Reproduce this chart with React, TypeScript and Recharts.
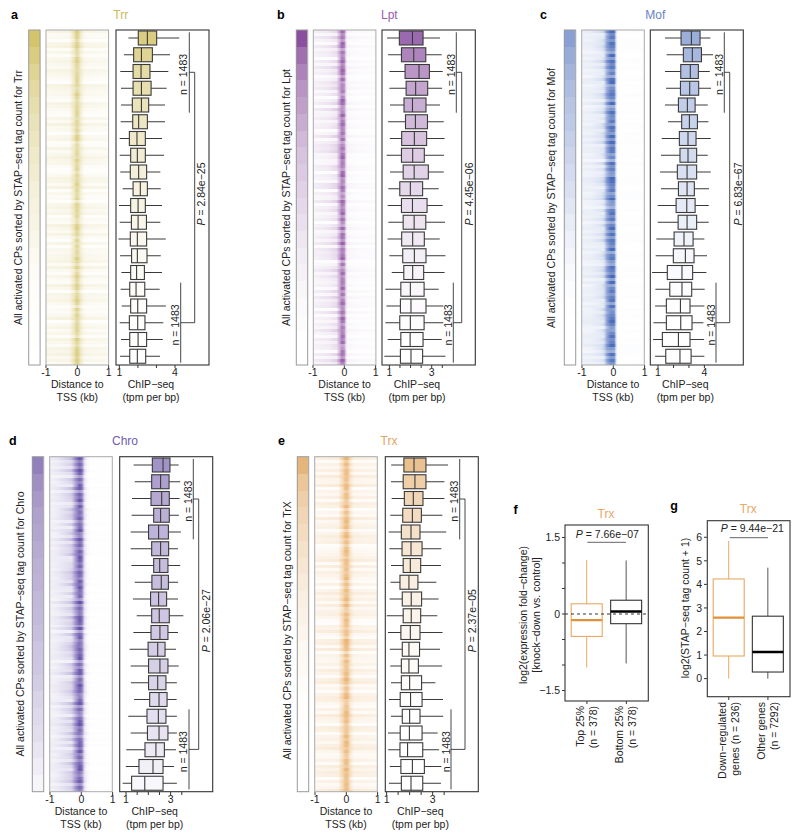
import React from "react";
import { BarChart, Bar, XAxis, YAxis, ReferenceLine } from "recharts";

const FONT = "'Liberation Sans', Arial, sans-serif";
const INK = "#222";

// ---- box statistics: [low whisker, q1, median, q3, high whisker], top row first
const trrBoxes = [
  [1.49,2.02,2.51,3.01,4.23],[1.25,1.77,2.19,2.78,3.73],[1.05,1.74,2.17,2.65,3.64],[1.09,1.74,2.19,2.71,3.55],
  [1.09,1.70,2.19,2.58,3.46],[1.07,1.72,2.04,2.51,3.46],[1.02,1.54,1.95,2.40,3.30],[1.02,1.61,1.97,2.40,3.41],
  [1.05,1.59,2.04,2.47,3.21],[1.18,1.74,2.13,2.51,3.23],[0.98,1.61,2.01,2.40,3.30],[1.02,1.65,2.01,2.46,3.21],
  [0.95,1.59,1.97,2.47,3.50],[1.04,1.66,1.97,2.49,3.23],[1.11,1.61,1.93,2.35,3.30],[1.07,1.56,1.90,2.37,3.17],
  [1.13,1.61,1.99,2.47,3.51],[1.02,1.54,1.99,2.38,3.37],[1.09,1.56,2.01,2.47,3.34],[1.04,1.56,1.97,2.42,3.19],
];
const lptBoxes = [
  [0.89,1.47,2.09,2.59,3.39],[0.94,1.57,2.15,2.72,3.47],[1.00,1.74,2.40,2.89,3.52],[1.00,1.79,2.24,2.81,3.49],
  [1.03,1.69,2.09,2.73,3.39],[0.94,1.76,2.23,2.80,3.57],[1.02,1.58,2.18,2.76,3.61],[0.87,1.57,2.10,2.65,3.58],
  [1.03,1.65,2.17,2.84,3.57],[0.95,1.49,1.99,2.57,3.33],[0.92,1.57,2.09,2.78,3.52],[0.95,1.65,2.17,2.72,3.63],
  [0.91,1.58,2.10,2.65,3.38],[1.00,1.63,2.18,2.73,3.65],[1.11,1.68,2.10,2.62,3.61],[0.81,1.54,1.99,2.64,3.33],
  [0.86,1.52,2.02,2.73,3.55],[0.81,1.49,1.99,2.64,3.55],[0.92,1.54,1.98,2.59,3.47],[0.76,1.52,2.02,2.57,3.65],
];
const mofBoxes = [
  [1.45,2.49,3.16,3.72,4.39],[1.56,2.64,3.22,3.81,4.56],[1.45,2.47,3.09,3.61,4.35],[1.52,2.45,3.05,3.63,4.43],
  [1.45,2.32,2.90,3.40,4.22],[1.65,2.53,3.03,3.55,4.26],[1.24,2.38,2.94,3.46,4.41],[1.19,2.42,2.94,3.50,4.22],
  [1.13,2.25,2.88,3.50,4.41],[1.19,2.32,2.88,3.35,4.30],[0.98,2.17,2.86,3.40,4.28],[0.98,2.30,2.88,3.50,4.28],
  [0.89,2.04,2.68,3.27,4.00],[0.85,1.99,2.77,3.33,4.17],[0.61,1.60,2.55,3.24,4.13],[0.83,1.76,2.55,3.18,4.02],
  [0.81,1.54,2.45,3.07,4.00],[0.70,1.54,2.47,3.20,3.94],[0.68,1.28,2.32,3.07,3.98],[0.81,1.50,2.42,3.14,4.00],
];
const chroBoxes = [
  [1.34,2.18,2.66,2.97,3.36],[1.39,2.15,2.55,2.93,3.43],[1.27,2.12,2.60,2.94,3.40],[1.25,2.24,2.55,2.94,3.37],
  [1.21,2.01,2.46,2.90,3.46],[1.21,2.15,2.55,2.91,3.33],[1.24,2.24,2.51,2.88,3.43],[1.39,2.16,2.58,2.90,3.33],
  [1.31,2.10,2.46,2.82,3.33],[1.48,2.15,2.49,2.94,3.57],[1.33,2.12,2.52,2.88,3.33],[1.16,1.99,2.42,2.75,3.24],
  [1.21,2.01,2.52,2.88,3.36],[1.22,2.01,2.42,2.79,3.28],[1.36,2.06,2.48,2.84,3.27],[1.10,1.94,2.45,2.79,3.28],
  [1.21,1.96,2.48,2.88,3.28],[1.01,1.85,2.34,2.72,3.24],[0.99,1.58,2.21,2.66,3.15],[0.85,1.25,1.84,2.66,3.28],
];
const trxBoxes = [
  [1.20,1.75,2.19,2.71,3.67],[1.19,1.72,2.23,2.71,3.51],[1.22,1.77,2.16,2.58,3.51],[1.16,1.70,2.12,2.51,3.42],
  [1.09,1.64,2.06,2.45,3.59],[1.12,1.67,2.06,2.54,3.38],[1.19,1.72,2.03,2.48,3.36],[1.17,1.58,1.97,2.36,3.16],
  [1.13,1.68,2.07,2.52,3.26],[1.01,1.72,2.07,2.48,3.20],[1.06,1.62,2.03,2.45,3.43],[1.14,1.68,1.97,2.43,3.32],
  [1.16,1.64,1.97,2.38,3.41],[1.19,1.64,2.00,2.52,3.12],[1.10,1.59,2.04,2.54,3.45],[1.19,1.68,2.00,2.45,3.46],
  [1.06,1.59,1.99,2.54,3.22],[1.07,1.58,1.91,2.57,3.28],[1.14,1.62,2.12,2.64,3.38],[1.10,1.64,2.06,2.57,3.36],
];

// ---- strength of the colour band of each of the 20 groups
const trrBands = [1,.86,.72,.64,.56,.48,.42,.36,.31,.26,.22,.18,.14,.1,.07,.05,.03,.02,.01,0];
const lptBands = [1,.82,.7,.6,.54,.47,.4,.34,.3,.26,.22,.18,.14,.11,.08,.05,.03,.02,0,0];
const mofBands = [1,.88,.78,.7,.62,.56,.5,.44,.38,.32,.26,.2,.15,.1,.06,.03,.01,0,0,0];
const chroBands = [1,.88,.8,.74,.7,.66,.62,.6,.56,.54,.5,.46,.44,.4,.34,.3,.26,.2,.14,.08];
const trxBands = [1,.78,.66,.56,.48,.4,.34,.28,.22,.18,.14,.1,.07,.04,.02,.01,0,0,0,0];

// ---- heat map row strengths, 0-9, estimated by eye, top row first
const digits = (s: string) => s.replace(/\s/g, "").split("").map(Number);
const trrCore = digits("9984 6752 3785 5146 7730 4964 2558 7163 3649 8251 5507 3682 6149 2735 8064 5371 2696 4180 7353 9426 1685 4772 3596 0847 2564 7318 5469 8799");
const trrWash = digits("8341 7926 1575 3864 2097 5531 8642 1739 4405 7128 3596 6201 4873 9152 3068 5714 2963 8307 1546 6829 4173 2950 7684 1325 9047 3618 5286 9473");
const lptCore = digits("8452 9716 3684 5972 8143 6059 7314 9268 4571 8036 2795 6418 9352 7604 1863 5927 4081 7639 2546 9170 3825 6491 7058 2463 9716 3584 8027 6395");
const lptWash = digits("7294 1836 5072 9461 3758 2604 8193 4725 6039 1587 9342 2760 5418 8063 3915 7246 0582 4739 1867 6025 9374 3518 2946 7081 5263 9417 3650 8294");
const mofCore = digits("9573 8641 9285 7360 8914 6752 9038 5471 8629 3947 7150 8463 2986 5714 9320 6847 1593 8276 4905 7318 6492 9057 3681 8245 7963 1584 6920 8374");
const mofWash = digits("9127 4863 0592 7316 8045 2971 6358 1409 7286 5913 3740 8162 4695 0378 9251 6047 3814 7592 1068 5326 9471 2853 6704 1938 5260 8417 3795 6142");
const chroCore = digits("8364 9715 2870 6493 8152 7346 9028 5617 3984 7265 1839 6470 9253 4786 0915 8342 6579 1408 7263 9651 3780 5124 8936 2047 7591 6348 9205 7163");
const chroWash = digits("9462 8317 5093 7641 2958 6170 4839 2765 9014 3586 7291 1604 8375 2946 5708 1369 7452 0863 9127 4586 3094 7618 2753 9481 6037 5294 1876 8365");
const trxCore = digits("9473 5826 3691 7540 8263 4957 1682 5379 6048 2715 9364 7158 3820 6497 5136 2978 4061 8352 7693 1547 8026 3965 7412 5839 6074 2681 9357 4865");
const trxWash = digits("8163 7294 4905 3718 6042 9357 1586 7023 4691 8275 3160 5947 2836 7410 6593 1782 9054 3628 5179 2406 8731 6295 4087 1563 7942 3618 5870 6249");

// ---- horizontal profile of the heat maps: [distance to TSS in kb, alpha]
const trrCoreProfile = [[-0.25,0],[-0.1,0.3],[-0.04,0.62],[0.02,0.62],[0.1,0.22],[0.22,0]];
const trrWashProfile = [[-1,0.15],[-0.3,0.19],[0,0.26],[0.3,0.15],[1,0.12]];
const lptCoreProfile = [[-0.25,0],[-0.15,0.4],[-0.08,0.85],[0,0.75],[0.05,0.2],[0.1,0]];
const lptWashProfile = [[-1,0.1],[-0.5,0.16],[-0.15,0.3],[0.05,0.08],[0.4,0.04],[1,0.03]];
const mofCoreProfile = [[-0.3,0.12],[-0.18,0.7],[-0.08,1],[0.03,1],[0.09,0.2],[0.14,0]];
const mofWashProfile = [[-1,0],[-0.7,0.02],[-0.4,0.12],[-0.2,0.36],[0.05,0.1],[0.15,0.01],[1,0.02]];
const chroCoreProfile = [[-0.3,0.1],[-0.15,0.6],[-0.05,0.95],[0.02,0.8],[0.1,0.15],[0.18,0]];
const chroWashProfile = [[-1,0.01],[-0.75,0.06],[-0.4,0.22],[-0.1,0.5],[0.1,0.1],[0.3,0.01],[1,0.01]];
const trxCoreProfile = [[-0.25,0],[-0.1,0.35],[-0.03,0.65],[0.05,0.6],[0.12,0.2],[0.22,0]];
const trxWashProfile = [[-1,0.16],[-0.3,0.2],[0,0.3],[0.3,0.18],[1,0.15]];

const GROUPS = Array.from({ length: 20 }, (_, i) => i + 1);

const panels = [
  { id: "a", title: "Trr", titleColor: "#cbb85a", titleX: 120.7, titleY: 19, labelX: 11, labelY: 19,
    ylabel: "All activated CPs sorted by STAP\u2212seq tag count for Trr", ylabelX: 18, ylabelY: 197.5,
    top: 30, bar: 28.7, heat: 46, box: 116, boxW: 93, boxes: trrBoxes, bands: trrBands,
    domain: [0.82, 5.83], ticks: [1,2,3,4], shown: [1,4], barColor: "#d4c46c", heatColor: "#cdba52",
    core: trrCore, wash: trrWash, coreP: trrCoreProfile, washP: trrWashProfile,
    n1: 189.3, n2: 180.7, pX: 194.7, n1T: 183, n2T: 175, pT: 201, pText: "2.84e\u221225" },
  { id: "b", title: "Lpt", titleColor: "#9a5cb0", titleX: 389.3, titleY: 19, labelX: 277, labelY: 19,
    ylabel: "All activated CPs sorted by STAP\u2212seq tag count for Lpt", ylabelX: 286, ylabelY: 197.5,
    top: 30, bar: 296.3, heat: 313.3, box: 382, boxW: 93.3, boxes: lptBoxes, bands: lptBands,
    domain: [0.65, 5.06], ticks: [1,1.5,2,2.5,3,3.5], shown: [1,3], barColor: "#8a4f9f", heatColor: "#87459c",
    core: lptCore, wash: lptWash, coreP: lptCoreProfile, washP: lptWashProfile,
    n1: 456.3, n2: 453.3, pX: 461.7, n1T: 450.7, n2T: 447.7, pT: 469, pText: "4.45e\u221206" },
  { id: "c", title: "Mof", titleColor: "#6583c4", titleX: 655.3, titleY: 19, labelX: 540, labelY: 19,
    ylabel: "All activated CPs sorted by STAP\u2212seq tag count for Mof", ylabelX: 550.7, ylabelY: 198,
    top: 30, bar: 564.3, heat: 581.7, box: 650.3, boxW: 93, boxes: mofBoxes, bands: mofBands,
    domain: [0.48, 6.5], ticks: [1,2,3,4], shown: [1,4], barColor: "#8aa0d4", heatColor: "#4a6cba",
    core: mofCore, wash: mofWash, coreP: mofCoreProfile, washP: mofWashProfile,
    n1: 724.3, n2: 716, pX: 729.7, n1T: 718.7, n2T: 710.7, pT: 737.7, pText: "6.83e\u221267" },
  { id: "d", title: "Chro", titleColor: "#6f5cb5", titleX: 125, titleY: 445, labelX: 9, labelY: 445,
    ylabel: "All activated CPs sorted by STAP\u2212seq tag count for Chro", ylabelX: 20, ylabelY: 624,
    top: 456.7, bar: 32.3, heat: 49.7, box: 119.7, boxW: 93, boxes: chroBoxes, bands: chroBands,
    domain: [0.73, 4.9], ticks: [1,1.5,2,2.5,3,3.5], shown: [1,3], barColor: "#9280bd", heatColor: "#5e48a6",
    core: chroCore, wash: chroWash, coreP: chroCoreProfile, washP: chroWashProfile,
    n1: 193.3, n2: 189, pX: 198.7, n1T: 188.3, n2T: 183, pT: 206, pText: "2.06e\u221227" },
  { id: "e", title: "Trx", titleColor: "#e6a35e", titleX: 389, titleY: 445, labelX: 278, labelY: 445,
    ylabel: "All activated CPs sorted by STAP\u2212seq tag count for TrX", ylabelX: 286.7, ylabelY: 630.5,
    top: 456.7, bar: 297.3, heat: 314.7, box: 385.3, boxW: 93, boxes: trxBoxes, bands: trxBands,
    domain: [0.93, 4.97], ticks: [1,1.5,2,2.5,3,3.5], shown: [1,3], barColor: "#e5b67c", heatColor: "#e3993f",
    core: trxCore, wash: trxWash, coreP: trxCoreProfile, washP: trxWashProfile,
    n1: 459.7, n2: 451, pX: 465, n1T: 454, n2T: 445.7, pT: 471.7, pText: "2.37e\u221205" },
];

const fCategories = ["Top 25%|(n = 378)", "Bottom 25%|(n = 378)"];
const fBoxes = [[-1.05,-0.44,-0.12,0.20,1.06],[-0.97,-0.19,0.05,0.27,1.05]];
const fTicks = [-1.5,-1,-0.5,0,0.5,1,1.5];
const gCategories = ["Down\u2212regulated|genes (n = 236)", "Other genes|(n = 7292)"];
const gBoxes = [[0,0.96,2.59,4.23,5.84],[0,0.28,1.13,2.65,4.71]];
const gTicks = [0,1,2,3,4,5,6];

const ORANGE = "#e9a863";
const ORANGE_DK = "#df9139";

const H = 335;
const PAD = 12;
const AX = 20;

function HBox(props: any) {
  const { x, y, width, height, payload, fill } = props;
  const [lo, q1, med, q3, hi] = payload.stats;
  const u = width / (q3 - q1);
  const at = (v: number) => x + (v - q1) * u;
  const cy = y + height / 2;
  return (
    <g>
      <line x1={at(lo)} x2={at(hi)} y1={cy} y2={cy} stroke="#3a3a3a" strokeWidth={1} />
      <rect x={x} y={y} width={width} height={height} fill="#fff" />
      <rect x={x} y={y} width={width} height={height} fill={fill} fillOpacity={payload.band * 0.85} stroke="#3a3a3a" strokeWidth={1.1} />
      <line x1={at(med)} x2={at(med)} y1={y} y2={y + height} stroke="#3a3a3a" strokeWidth={1.1} />
    </g>
  );
}

function VBox(props: any) {
  const { x, y, width, height, payload } = props;
  const [lo, q1, med, q3, hi] = payload.stats;
  const u = height / (q3 - q1);
  const at = (v: number) => y + height - (v - q1) * u;
  const cx = x + width / 2;
  const { line, mid, whisk } = payload;
  return (
    <g>
      <line x1={cx} x2={cx} y1={at(hi)} y2={y} stroke={whisk} strokeWidth={1} />
      <line x1={cx} x2={cx} y1={y + height} y2={at(lo)} stroke={whisk} strokeWidth={1} />
      <rect x={x} y={y} width={width} height={height} fill="none" stroke={line} strokeWidth={1.1} />
      <line x1={x} x2={x + width} y1={at(med)} y2={at(med)} stroke={mid} strokeWidth={2.4} />
    </g>
  );
}

function ColorBar({ p }: any) {
  const data = GROUPS.map((g, i) => ({ g, span: [0, 1], band: p.bands[i] }));
  const rowH = H / data.length;
  return (
    <div style={{ position: "absolute", left: p.bar, top: p.top }}>
      <BarChart width={11.4} height={H} data={data} layout="vertical" margin={{ top: 0, right: 0, bottom: 0, left: 0 }} barCategoryGap={0}>
        <XAxis type="number" domain={[0, 1]} hide />
        <YAxis type="category" dataKey="g" hide />
        <Bar dataKey="span" isAnimationActive={false}
          shape={(s: any) => <rect x={s.x} y={s.y} width={s.width} height={rowH} fill={p.barColor} fillOpacity={s.payload.band} shapeRendering="crispEdges" />} />
      </BarChart>
    </div>
  );
}

function HeatMap({ p }: any) {
  const data = p.core.map((c: number, i: number) => ({ row: i, span: [-1, 1], core: c / 9, wash: p.wash[i] / 9 }));
  const rowH = H / data.length;
  const stops = (prof: number[][]) => prof.map(([d, a], i) => (
    <stop key={i} offset={`${((d + 1) / 2) * 100}%`} stopColor={p.heatColor} stopOpacity={a} />
  ));
  return (
    <div style={{ position: "absolute", left: p.heat - PAD, top: p.top }}>
      <BarChart width={62.6 + 2 * PAD} height={H + AX} data={data} layout="vertical" margin={{ top: 0, right: PAD, bottom: 0, left: PAD }} barCategoryGap={0}>
        <defs>
          <linearGradient id={`core-${p.id}`} x1="0" x2="1" y1="0" y2="0">{stops(p.coreP)}</linearGradient>
          <linearGradient id={`wash-${p.id}`} x1="0" x2="1" y1="0" y2="0">{stops(p.washP)}</linearGradient>
        </defs>
        <XAxis type="number" domain={[-1, 1]} ticks={[-1, 0, 1]} interval={0} height={AX} axisLine={false}
          tickSize={3} tick={{ fontSize: 10.5, fill: INK, fontFamily: FONT, dy: -1 }} tickLine={{ stroke: "#333" }}
          tickFormatter={(v: number) => (v < 0 ? "-1" : String(v))} />
        <YAxis type="category" dataKey="row" hide />
        <Bar dataKey="span" isAnimationActive={false}
          shape={(s: any) => (
            <g shapeRendering="crispEdges">
              <rect x={s.x} y={s.y} width={s.width} height={rowH} fill={`url(#wash-${p.id})`} opacity={0.1 + 0.9 * s.payload.wash} />
              <rect x={s.x} y={s.y} width={s.width} height={rowH} fill={`url(#core-${p.id})`} opacity={0.5 + 0.5 * s.payload.core} />
            </g>
          )} />
      </BarChart>
    </div>
  );
}

function BoxRows({ p }: any) {
  const data = p.boxes.map((b: number[], i: number) => ({ g: GROUPS[i], box: [b[1], b[3]], stats: b, band: p.bands[i] }));
  return (
    <div style={{ position: "absolute", left: p.box - PAD, top: p.top }}>
      <BarChart width={p.boxW + 2 * PAD} height={H + AX} data={data} layout="vertical" margin={{ top: 0, right: PAD, bottom: 0, left: PAD }} barSize={14}>
        <XAxis type="number" domain={p.domain} allowDataOverflow ticks={p.ticks} interval={0} height={AX} axisLine={false}
          tickSize={3} tick={{ fontSize: 10.5, fill: INK, fontFamily: FONT, dy: -1 }} tickLine={{ stroke: "#333" }}
          tickFormatter={(v: number) => (p.shown.includes(v) ? String(v) : "")} />
        <YAxis type="category" dataKey="g" hide />
        <Bar dataKey="box" fill={p.barColor} isAnimationActive={false} shape={HBox} />
      </BarChart>
    </div>
  );
}

function RotTick({ x, y, payload }: any) {
  const [a, b] = String(payload.value).split("|");
  const T = ({ dx, s }: any) => (
    <text transform={`rotate(-90 ${x + dx} ${y})`} x={x + dx} y={y} textAnchor="end" dominantBaseline="central" fontSize={10.5} fontFamily={FONT} fill={INK}>{s}</text>
  );
  return <g><T dx={-6.5} s={a} /><T dx={6.5} s={b} /></g>;
}

const colors = [
  { line: ORANGE, mid: ORANGE_DK, whisk: ORANGE },
  { line: "#333", mid: "#000", whisk: "#555" },
];

function Small({ left, top, w, h, cats, boxes, domain, ticks, shown, zero, tickH }: any) {
  const data = cats.map((c: string, i: number) => ({ c, box: [boxes[i][1], boxes[i][3]], stats: boxes[i], ...colors[i] }));
  const L = 32;
  return (
    <div style={{ position: "absolute", left: left - L, top }}>
      <BarChart width={w + L + 4} height={h + tickH} data={data} margin={{ top: 0, right: 4, bottom: 0, left: 0 }} barSize={31}>
        <XAxis dataKey="c" type="category" padding={{ left: 2.2, right: 2.2 }} height={tickH} axisLine={false} interval={0}
          tickSize={3} tickLine={{ stroke: "#333" }} tick={<RotTick />} />
        <YAxis type="number" domain={domain} allowDataOverflow ticks={ticks} interval={0} width={L} axisLine={false}
          tickSize={3} tickLine={{ stroke: "#333" }} tick={{ fontSize: 10.5, fill: INK, fontFamily: FONT }}
          tickFormatter={(v: number) => (shown.includes(v) ? String(v).replace("-", "\u2212") : "")} />
        <Bar dataKey="box" isAnimationActive={false} shape={VBox} />
        {zero ? <ReferenceLine y={0} stroke="#333" strokeWidth={1} strokeDasharray="3 3" /> : null}
      </BarChart>
    </div>
  );
}

const Txt = ({ x, y, children, size = 10.5, color = INK, anchor = "middle", weight = "normal" }: any) => (
  <text x={x} y={y} fontSize={size} fill={color} textAnchor={anchor} fontWeight={weight} fontFamily={FONT}>{children}</text>
);
const Rot = ({ x, y, children, size = 10.5 }: any) => (
  <text transform={`rotate(-90 ${x} ${y})`} x={x} y={y} fontSize={size} fill={INK} textAnchor="middle" dominantBaseline="central" fontFamily={FONT}>{children}</text>
);
const Frame = ({ x, y, w, h, color = "#333", sw = 1.1 }: any) => (
  <rect x={x} y={y} width={w} height={h} fill="none" stroke={color} strokeWidth={sw} />
);

function PanelMarks({ p }: any) {
  const t = p.top;
  const heatC = p.heat + 31.3;
  const boxC = p.box + 35;
  const n1a = t + 2.3, n1b = t + 82.7, n2a = t + 252.7, n2b = t + 332.7;
  const pa = t + 42.3, pb = t + 292.7;
  const lines = [
    [p.n1, n1a, p.n1, n1b], [p.n2, n2a, p.n2, n2b],
    [p.n1, pa, p.pX, pa], [p.pX, pa, p.pX, pb], [p.n2, pb, p.pX, pb],
  ];
  return (
    <g>
      <Txt x={p.labelX} y={p.labelY} size={12.5} weight="bold" anchor="start" color="#000">{p.id}</Txt>
      <Txt x={p.titleX} y={p.titleY} size={12} color={p.titleColor}>{p.title}</Txt>
      <Rot x={p.ylabelX} y={p.ylabelY}>{p.ylabel}</Rot>
      <Frame x={p.bar} y={t} w={11.4} h={H} color="#999" sw={1} />
      <Frame x={p.heat} y={t} w={62.6} h={H} color="#aaa" sw={1} />
      <Frame x={p.box} y={t} w={p.boxW} h={H} />
      <Txt x={heatC} y={t + 358}>Distance to</Txt>
      <Txt x={heatC} y={t + 371}>TSS (kb)</Txt>
      <Txt x={boxC} y={t + 358}>ChIP{"\u2212"}seq</Txt>
      <Txt x={boxC} y={t + 371}>(tpm per bp)</Txt>
      {lines.map((l, i) => <line key={i} x1={l[0]} y1={l[1]} x2={l[2]} y2={l[3]} stroke="#333" strokeWidth={0.9} />)}
      <Rot x={p.n1T} y={t + 44.5}>n = 1483</Rot>
      <Rot x={p.n2T} y={t + 295}>n = 1483</Rot>
      <Rot x={p.pT} y={t + 164}><tspan fontStyle="italic">P</tspan> = {p.pText}</Rot>
    </g>
  );
}

export default function App() {
  return (
    <div style={{ position: "absolute", left: 0, top: 0, width: 800, height: 839, background: "#fff", overflow: "hidden" }}>
      {panels.map((p) => (
        <React.Fragment key={p.id}>
          <ColorBar p={p} />
          <HeatMap p={p} />
          <BoxRows p={p} />
        </React.Fragment>
      ))}
      <Small left={565} top={525} w={83.3} h={176} tickH={2 + 90} cats={fCategories} boxes={fBoxes}
        domain={[-1.706, 1.745]} ticks={fTicks} shown={[-1.5, 0, 1.5]} zero />
      <Small left={707.3} top={520.7} w={82.7} h={176} tickH={6 + 90} cats={gCategories} boxes={gBoxes}
        domain={[-0.78, 6.69]} ticks={gTicks} shown={gTicks} />
      <svg width={800} height={839} style={{ position: "absolute", left: 0, top: 0, pointerEvents: "none" }}>
        {panels.map((p) => <PanelMarks key={p.id} p={p} />)}

        <Txt x={515.7} y={514} size={12.5} weight="bold" color="#000">f</Txt>
        <Txt x={606} y={517.7} size={12} color={ORANGE}>Trx</Txt>
        <Frame x={565} y={525} w={83.3} h={176} />
        <Rot x={522.7} y={615}>log2(expression fold{"\u2212"}change)</Rot>
        <Rot x={536} y={615}>[knock{"\u2212"}down vs. control]</Rot>
        <Txt x={607.3} y={538}><tspan fontStyle="italic">P</tspan> = 7.66e{"\u2212"}07</Txt>
        <line x1={587.3} x2={626} y1={542.3} y2={542.3} stroke="#555" strokeWidth={0.9} />

        <Txt x={674} y={510} size={12.5} weight="bold" color="#000">g</Txt>
        <Txt x={748.3} y={512.7} size={12} color={ORANGE}>Trx</Txt>
        <Frame x={707.3} y={520.7} w={82.7} h={176} />
        <Rot x={685} y={608}>log2(STAP{"\u2212"}seq tag count + 1)</Rot>
        <Txt x={752.3} y={532.3}><tspan fontStyle="italic">P</tspan> = 9.44e{"\u2212"}21</Txt>
        <line x1={729.7} x2={768} y1={537.7} y2={537.7} stroke="#555" strokeWidth={0.9} />
      </svg>
    </div>
  );
}
